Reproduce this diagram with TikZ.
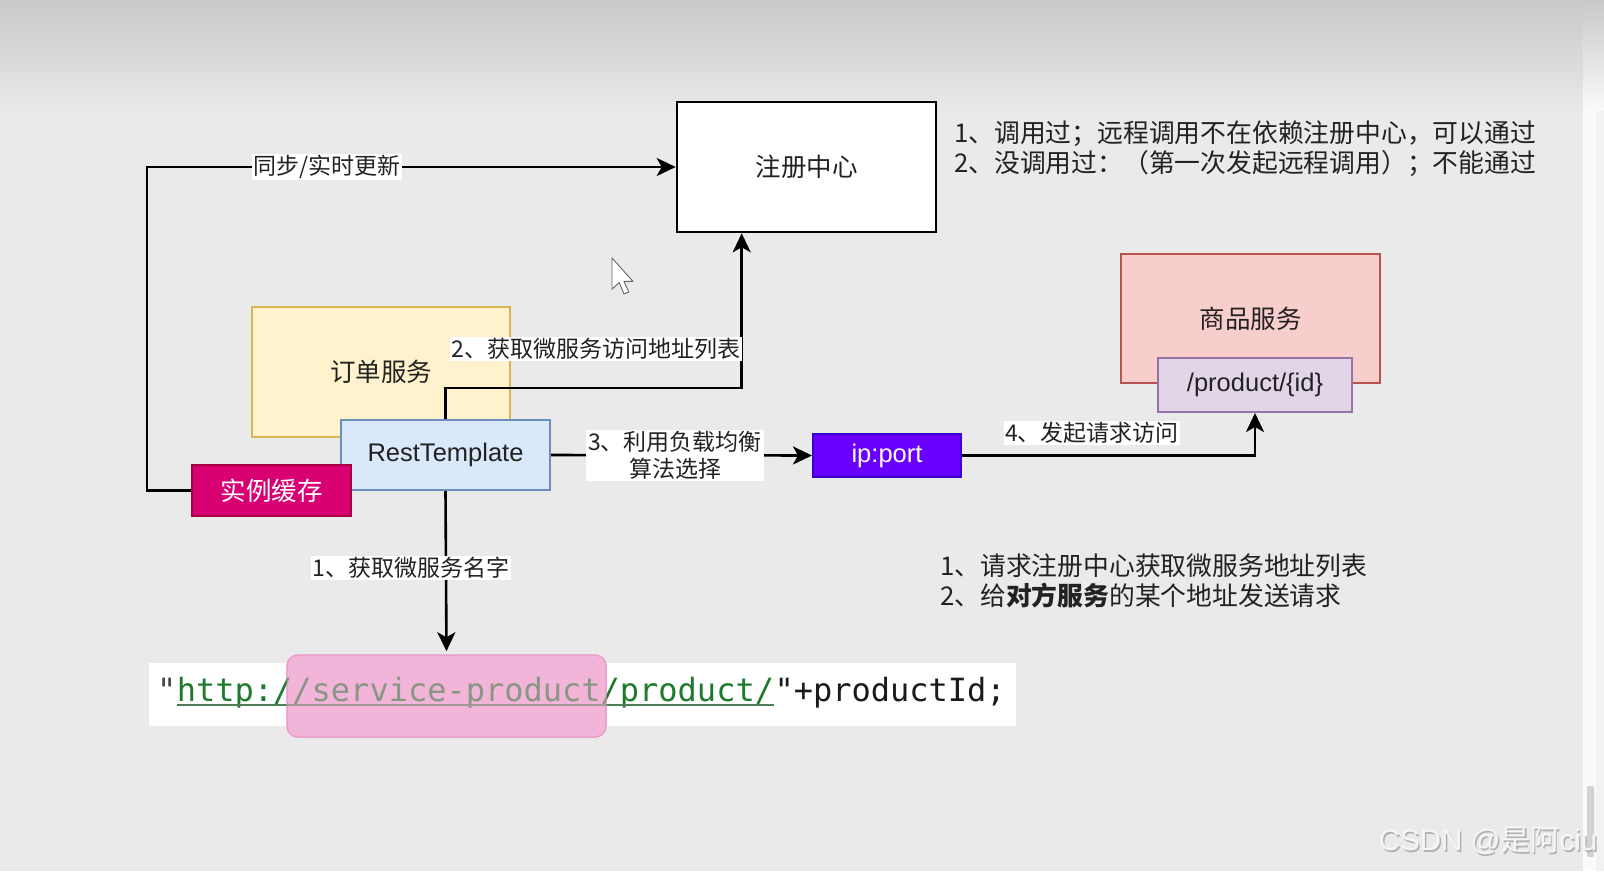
\documentclass[tikz,border=0pt]{standalone}
\usepackage{fontspec}
\setmainfont{Noto Sans CJK SC}
\newfontfamily\arial{Liberation Sans}
\newfontfamily\codefont{DejaVu Sans Mono}
\usetikzlibrary{arrows.meta}
\definecolor{bgc}{HTML}{EAEAEA}
\definecolor{topc}{HTML}{C9C9C9}
\definecolor{yellowF}{HTML}{FFF2CC}
\definecolor{yellowD}{HTML}{D6B656}
\definecolor{blueF}{HTML}{DAE8FC}
\definecolor{blueD}{HTML}{6C8EBF}
\definecolor{magF}{HTML}{D80073}
\definecolor{magD}{HTML}{A50040}
\definecolor{purF}{HTML}{6A00FF}
\definecolor{purD}{HTML}{3700CC}
\definecolor{redF}{HTML}{F8CECC}
\definecolor{redD}{HTML}{B85450}
\definecolor{lilF}{HTML}{E1D5E7}
\definecolor{lilD}{HTML}{9673A6}
\definecolor{strgreen}{HTML}{1F7A2E}
\definecolor{codeblack}{HTML}{1A1A1A}
\definecolor{hlF}{HTML}{F2B4D8}
\definecolor{hlD}{HTML}{E58BC0}
\definecolor{txt}{HTML}{222222}
\begin{document}
\begin{tikzpicture}[x=1pt,y=-1pt,
  box/.style={draw, line width=2pt, inner sep=0pt, align=center, text=txt,
    font=\fontsize{25.5pt}{30pt}\selectfont},
  conn/.style={line width=2.6pt, draw=black, -{Stealth[length=19pt,width=18pt,inset=5pt]}},
  lbl/.style={fill=white, inner sep=1.5pt, text=txt, align=center,
    font=\fontsize{23pt}{26.6pt}\selectfont},
  note/.style={anchor=west, align=left, inner sep=0pt, text=txt,
    font=\fontsize{25.8pt}{30.5pt}\selectfont},
  codetxt/.style={anchor=base west, inner sep=0pt, font=\codefont\fontsize{32pt}{36pt}\selectfont}
]
\useasboundingbox (0,0) rectangle (1604,871);
% background
\fill[bgc] (0,0) rectangle (1604,871);
\shade[top color=topc, bottom color=bgc] (0,0) rectangle (1584,115);
% scroll strip
\fill[white!96!gray] (1583,0) rectangle (1596,871);
\fill[white!90!gray] (1596,0) rectangle (1604,871);
\shade[top color=topc, bottom color=white!96!gray] (1583,0) rectangle (1604,110);
\fill[gray!35, rounded corners=2pt] (1587,786) rectangle (1594,857);

% boxes
\node[box, fill=white, draw=black, line width=2.6pt, minimum width=259pt, minimum height=130pt] (reg) at (806.5,167) {注册中心};
\node[box, fill=yellowF, draw=yellowD, minimum width=258pt, minimum height=130pt] (order) at (381,372) {订单服务};
\node[box, fill=blueF, draw=blueD, minimum width=209pt, minimum height=70pt, font=\arial\fontsize{25.5pt}{30pt}\selectfont] (rt) at (445.5,455) {RestTemplate};
\node[box, fill=magF, draw=magD, text=white, minimum width=159pt, minimum height=51pt] (cache) at (271.5,490.5) {实例缓存};
\node[box, fill=purF, draw=purD, text=white, minimum width=148pt, minimum height=43pt, font=\arial\fontsize{25.5pt}{30pt}\selectfont] (ip) at (887,455.5) {ip:port};
\node[box, fill=redF, draw=redD, minimum width=259pt, minimum height=129pt] (goods) at (1250.5,318.5) {商品服务};
\node[box, fill=lilF, draw=lilD, minimum width=194pt, minimum height=54pt, font=\arial\fontsize{25.5pt}{30pt}\selectfont] (pid) at (1255,385) {/product/\{id\}};

% code line
\node[fill=white, inner sep=0pt, minimum width=867pt, minimum height=63pt] (codebg) at (582.5,694.5) {};
\node[draw=hlD, fill=hlF, line width=1.5pt, rounded corners=11pt, inner sep=0pt, minimum width=319pt, minimum height=82pt] (hl) at (446.5,696) {};
\node[codetxt, text=codeblack!80] (q1) at (157,701) {"};
\node[codetxt, text=strgreen] (url) at (q1.base east) {http://service-product/product/};
\node[codetxt, text=codeblack] (rest) at (url.base east) {"+productId;};
\draw[strgreen!50!gray, line width=1.3pt] ([yshift=-4pt]url.base west) -- ([yshift=-4pt]url.base east);
\fill[hlF, opacity=0.5, rounded corners=11pt] (hl.south west) rectangle (hl.north east);

% connectors
\coordinate (regin) at ([xshift=66pt]reg.south west);
\draw[conn] (cache.west) -- ++(-44,0) |- (reg.west);
\draw[conn] (rt.north) -- ++(0,-31) -| (regin);
\draw[conn] (rt.east) -- (ip.west);
\draw[conn] (ip.east) -| (pid.south);
\draw[conn, shorten >=3pt] (rt.south) -- (hl.north);

% connector labels
\node[lbl] (l0) at (327,167) {同步/实时更新};
\node[lbl] (l2) at (596,349) {2、获取微服务访问地址列表};
\node[lbl, inner sep=2pt] (l3) at (675,455.5) {3、利用负载均衡\\算法选择};
\node[lbl] (l4) at (1092,433) {4、发起请求访问};
\node[lbl] (l1) at (411,568) {1、获取微服务名字};

% notes
\node[note] (n1) at (954,148.5) {1、调用过；远程调用不在依赖注册中心，可以通过\\2、没调用过：（第一次发起远程调用）；不能通过};
\node[note] (n2) at (940,581) {1、请求注册中心获取微服务地址列表\\2、给{\bfseries 对方服务}的某个地址发送请求};

% mouse cursor
\begin{scope}[shift={(612,258)}, scale=1.2]
\draw[fill=white, draw=gray!80!black, line width=0.9pt, line join=round]
  (0,0) -- (0,26) -- (6,20.5) -- (10,30) -- (14,28.3) -- (10,19.5) -- (17.5,19.5) -- cycle;
\end{scope}

% watermark
\node[text=gray!60, font=\fontsize{29.5pt}{32pt}\selectfont, inner sep=0pt] (wm0) at (1489.5,842.5) {{\arial CSDN @}是阿{\arial ciu}};
\node[text=white!93!gray, font=\fontsize{29.5pt}{32pt}\selectfont, inner sep=0pt] (wm) at (1488,841) {{\arial CSDN @}是阿{\arial ciu}};
\end{tikzpicture}
\end{document}
